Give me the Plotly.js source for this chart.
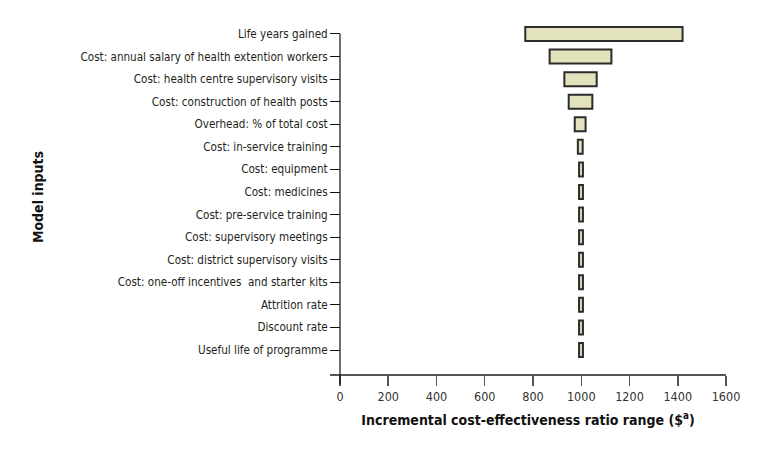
<!DOCTYPE html>
<html>
<head>
<meta charset="utf-8">
<script src="https://cdn.plot.ly/plotly-3.0.1.min.js"></script>
<style>html,body{margin:0;padding:0;background:#fff;}#chart{width:771px;height:454px;}</style>
</head>
<body>
<div id="chart"></div>
<script>
const inputs = [
  'Life years gained',
  'Cost: annual salary of health extention workers',
  'Cost: health centre supervisory visits',
  'Cost: construction of health posts',
  'Overhead: % of total cost',
  'Cost: in-service training',
  'Cost: equipment',
  'Cost: medicines',
  'Cost: pre-service training',
  'Cost: supervisory meetings',
  'Cost: district supervisory visits',
  'Cost: one-off incentives  and starter kits',
  'Attrition rate',
  'Discount rate',
  'Useful life of programme'
];
const lowICER  = [768, 869, 930, 948, 973, 986, 991, 991, 991, 991, 991, 991, 991, 991, 991];
const highICER = [1420, 1125, 1064, 1046, 1018, 1006, 1007, 1007, 1007, 1007, 1007, 1007, 1007, 1007, 1007];
const xTicks = [0, 200, 400, 600, 800, 1000, 1200, 1400, 1600];

const FONT = 'DejaVu Sans Condensed, Liberation Sans Narrow, Arial Narrow, sans-serif';

const trace = {
  type: 'bar',
  orientation: 'h',
  y: inputs,
  base: lowICER,
  x: highICER.map((h, i) => h - lowICER[i]),
  marker: {color: '#e2e2bc', line: {color: '#2b2b2b', width: 2}},
  hoverinfo: 'skip'
};

const layout = {
  width: 771, height: 454,
  margin: {l: 330, r: 45, t: 20, b: 80},
  paper_bgcolor: '#fff', plot_bgcolor: '#fff',
  showlegend: false,
  bargap: 0.38,
  font: {family: FONT, size: 12, color: '#231f20'},
  xaxis: {
    range: [-41.4, 1600],
    tickvals: xTicks,
    ticktext: xTicks.map(String),
    ticks: 'outside', ticklen: 10, tickwidth: 1.5, tickcolor: '#555',
    showline: true, linecolor: '#555', linewidth: 2,
    showgrid: false, zeroline: false,
    tickfont: {family: FONT, size: 12.5, color: '#333'},
    title: {text: 'Incremental cost-effectiveness ratio range ($<sup>a</sup>)', font: {family: FONT, size: 14, color: '#111', weight: 'bold'}, standoff: 12},
    fixedrange: true
  },
  yaxis: {
    type: 'category',
    categoryorder: 'array', categoryarray: inputs,
    range: [15.063, -0.62],
    anchor: 'free', position: 10/396,
    ticks: 'outside', ticklen: 10, tickwidth: 1, tickcolor: '#111',
    showline: false, showgrid: false, zeroline: false,
    tickfont: {family: FONT, size: 11.6, color: '#231f20'},
    title: {text: 'Model inputs', font: {family: FONT, size: 14, color: '#111', weight: 'bold'}, standoff: 32},
    fixedrange: true
  },
  shapes: [{
    type: 'line', xref: 'x', yref: 'paper',
    x0: 0, x1: 0, y0: -0.0283, y1: 0.9605,
    line: {color: '#111', width: 1.2}
  }]
};

Plotly.newPlot('chart', [trace], layout, {staticPlot: true, displayModeBar: false});
</script>
</body>
</html>
